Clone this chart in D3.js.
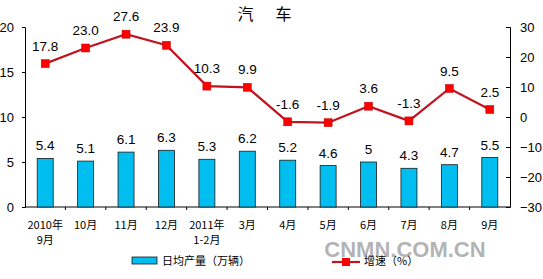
<!DOCTYPE html>
<html lang="zh">
<head>
<meta charset="utf-8">
<script src="https://d3js.org/d3.v7.min.js"></script>
<style type="text/css">
body { margin: 0; background: #fff; }
#chart { display: block; }
.axis text { font: 13px Arial, "Liberation Sans", sans-serif; fill: #000; }
.axis path, .axis line { stroke: #000; }
.xlab { font: 11px "Noto Sans CJK SC", sans-serif; fill: #000; }
.val { font: 13.5px Arial, "Liberation Sans", sans-serif; fill: #000; }
</style>
</head>
<body>
<svg id="chart"></svg>
<script type="text/javascript">

// data
var months = [["2010年", "9月"], ["10月"], ["11月"], ["12月"], ["2011年", "1-2月"], ["3月"], ["4月"], ["5月"], ["6月"], ["7月"], ["8月"], ["9月"]];
var daily = [5.4, 5.1, 6.1, 6.3, 5.3, 6.2, 5.2, 4.6, 5, 4.3, 4.7, 5.5];
var growth = [17.8, 23.0, 27.6, 23.9, 10.3, 9.9, -1.6, -1.9, 3.6, -1.3, 9.5, 2.5];
var dailyLabels = ["5.4", "5.1", "6.1", "6.3", "5.3", "6.2", "5.2", "4.6", "5", "4.3", "4.7", "5.5"];
var growthLabels = ["17.8", "23.0", "27.6", "23.9", "10.3", "9.9", "-1.6", "-1.9", "3.6", "-1.3", "9.5", "2.5"];
var leftTicks = [0, 5, 10, 15, 20];
var rightTicks = [-30, -20, -10, 0, 10, 20, 30];

var width = 543, height = 279;
var plotL = 25, plotR = 510, plotT = 27, plotB = 207;

var svg = d3.select("#chart").attr("width", width).attr("height", height);

var x = d3.scaleBand().domain(d3.range(months.length)).range([plotL, plotR]);
var yL = d3.scaleLinear().domain([0, 20]).range([plotB, plotT]);
var yR = d3.scaleLinear().domain([-30, 30]).range([plotB, plotT]);

// title
svg.append("text")
	.attr("x", 266).attr("y", 20)
	.attr("text-anchor", "middle")
	.style("font", "16px 'Noto Sans CJK SC', sans-serif")
	.style("letter-spacing", "3px")
	.text("汽\u3000车");

// axes
svg.append("g").attr("class", "axis")
	.attr("transform", "translate(" + plotL + ",0)")
	.call(d3.axisLeft(yL).tickValues(leftTicks).tickSize(3).tickPadding(8));

svg.append("g").attr("class", "axis")
	.attr("transform", "translate(" + plotR + ",0)")
	.call(d3.axisRight(yR).tickValues(rightTicks).tickSize(-4).tickPadding(10));

svg.append("line")
	.attr("x1", plotL).attr("x2", plotR)
	.attr("y1", plotB).attr("y2", plotB)
	.attr("stroke", "#000");

// small ticks between categories
svg.selectAll(".xt").data(d3.range(1, months.length)).join("line")
	.attr("class", "xt")
	.attr("x1", function(i) { return x(i); }).attr("x2", function(i) { return x(i); })
	.attr("y1", plotB).attr("y2", plotB + 3)
	.attr("stroke", "#000");

// x labels
var xl = svg.selectAll(".xlab").data(months).join("text")
	.attr("class", "xlab")
	.attr("text-anchor", "middle")
	.attr("x", function(d, i) { return x(i) + x.bandwidth() / 2; })
	.attr("y", 229);
xl.selectAll("tspan").data(function(d) { return d; }).join("tspan")
	.attr("x", function() { return d3.select(this.parentNode).attr("x"); })
	.attr("dy", function(d, i) { return i ? 15 : 0; })
	.text(function(d) { return d; });

// bars
var bw = 16;
svg.selectAll(".bar").data(daily).join("rect")
	.attr("class", "bar")
	.attr("x", function(d, i) { return x(i) + x.bandwidth() / 2 - bw / 2; })
	.attr("y", function(d) { return yL(d); })
	.attr("width", bw)
	.attr("height", function(d) { return plotB - yL(d); })
	.attr("fill", "#00BFF0")
	.attr("stroke", "#1a1a1a")
	.attr("stroke-width", 0.8);

svg.selectAll(".bval").data(daily).join("text")
	.attr("class", "val bval")
	.attr("text-anchor", "middle")
	.attr("x", function(d, i) { return x(i) + x.bandwidth() / 2; })
	.attr("y", function(d) { return yL(d) - 8; })
	.text(function(d, i) { return dailyLabels[i]; });

// line
var line = d3.line()
	.x(function(d, i) { return x(i) + x.bandwidth() / 2; })
	.y(function(d) { return yR(d); });

svg.append("path")
	.datum(growth)
	.attr("d", line)
	.attr("fill", "none")
	.attr("stroke", "#C0141E")
	.attr("stroke-width", 2.2);

svg.selectAll(".mk").data(growth).join("rect")
	.attr("class", "mk")
	.attr("x", function(d, i) { return x(i) + x.bandwidth() / 2 - 4; })
	.attr("y", function(d) { return yR(d) - 4; })
	.attr("width", 8).attr("height", 8)
	.attr("fill", "#FF0000")
	.attr("stroke", "#C00000")
	.attr("stroke-width", 0.5);

svg.selectAll(".lval").data(growth).join("text")
	.attr("class", "val lval")
	.attr("text-anchor", "middle")
	.attr("x", function(d, i) { return x(i) + x.bandwidth() / 2; })
	.attr("y", function(d) { return yR(d) - 13; })
	.text(function(d, i) { return growthLabels[i]; });

// watermark
svg.append("text")
	.attr("x", 405).attr("y", 257)
	.attr("text-anchor", "middle")
	.style("font", "bold 22px Arial, 'Liberation Sans', sans-serif")
	.attr("fill", "#9a9a9a")
	.attr("fill-opacity", 0.75)
	.text("CNMN.COM.CN");

// legend
svg.append("rect")
	.attr("x", 132).attr("y", 257).attr("width", 25).attr("height", 7)
	.attr("fill", "#00BFF0").attr("stroke", "#1a1a1a").attr("stroke-width", 0.8);
svg.append("text")
	.attr("x", 162).attr("y", 265)
	.style("font", "11px 'Noto Sans CJK SC', sans-serif")
	.text("日均产量（万辆）");

svg.append("line")
	.attr("x1", 332).attr("x2", 360).attr("y1", 262).attr("y2", 262)
	.attr("stroke", "#C0141E").attr("stroke-width", 2.2);
svg.append("rect")
	.attr("x", 342).attr("y", 258).attr("width", 8).attr("height", 8)
	.attr("fill", "#FF0000");
svg.append("text")
	.attr("x", 364).attr("y", 265)
	.style("font", "11px 'Noto Sans CJK SC', sans-serif")
	.text("增速（%）");

</script>
</body>
</html>
